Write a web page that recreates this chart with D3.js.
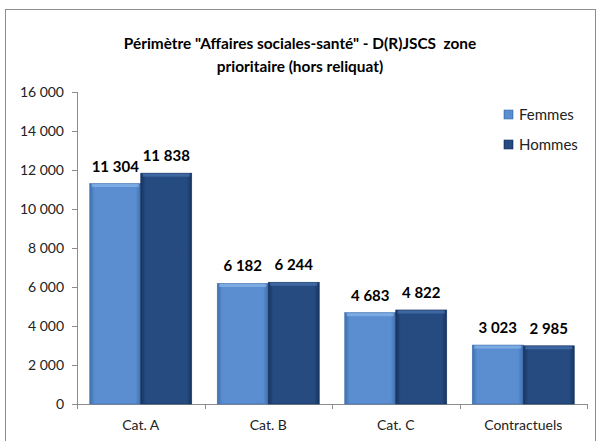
<!DOCTYPE html>
<html><head><meta charset="utf-8">
<script src="https://cdn.jsdelivr.net/npm/d3@7"></script>
<style>body{margin:0;background:#fff;} svg{display:block;font-family:Lato,"Open Sans",sans-serif;}</style>
</head><body>
<svg id="c" width="600" height="441"></svg>
<script>
const categories = ["Cat. A", "Cat. B", "Cat. C", "Contractuels"];
const seriesNames = ["Femmes", "Hommes"];
const femmes = [11304, 6182, 4683, 3023];
const hommes = [11838, 6244, 4822, 2985];
const yTicks = [0, 2000, 4000, 6000, 8000, 10000, 12000, 14000, 16000];
const titleLines = ['Périmètre "Affaires sociales-santé" - D(R)JSCS  zone', 'prioritaire (hors reliquat)'];

const svg = d3.select("#c");
const colors = {Femmes: ["#8ab8ec", "#5a8ed0", "#3f6fae"], Hommes: ["#4a74b0", "#254b80", "#173460"]};
const defs = svg.append("defs");
seriesNames.forEach(s => {
  const g = defs.append("linearGradient").attr("id", "g" + s).attr("x1", 0).attr("x2", 1).attr("y1", 0).attr("y2", 0);
  g.append("stop").attr("offset", "0").attr("stop-color", colors[s][2]);
  g.append("stop").attr("offset", "0.1").attr("stop-color", colors[s][1]);
  g.append("stop").attr("offset", "0.9").attr("stop-color", colors[s][1]);
  g.append("stop").attr("offset", "1").attr("stop-color", colors[s][2]);
});

// outer border
svg.append("rect").attr("x", 5.5).attr("y", 9.5).attr("width", 590).attr("height", 440)
  .attr("fill", "#fff").attr("stroke", "#8c8c8c").attr("stroke-width", 1);

const fmt = v => d3.format(",")(v).replace(/,/g, "\u202F");

const x0 = d3.scaleBand().domain(categories).range([77, 587]).paddingInner(0.2).paddingOuter(0.1);
const xBand = d3.scaleBand().domain(categories).range([77, 587]);
const x1 = d3.scaleBand().domain(seriesNames).range([0, x0.bandwidth()]);
const y = d3.scaleLinear().domain([0, 16000]).range([404, 92]);

// title
svg.append("g").selectAll("text").data(titleLines).join("text")
  .attr("x", 300).attr("y", (d, i) => 49 + i * 23)
  .attr("text-anchor", "middle").attr("font-size", 15.4).attr("font-weight", "bold").attr("fill", "#000")
  .style("white-space", "pre")
  .text(d => d);

// y axis
const yAxis = d3.axisLeft(y).tickValues(yTicks).tickFormat(fmt).tickSize(5).tickPadding(8);
const ga = svg.append("g").attr("transform", "translate(77,0)").call(yAxis);
ga.select(".domain").attr("stroke", "#8c8c8c").attr("d", "M0.5,92V404.5");
ga.selectAll(".tick line").attr("stroke", "#8c8c8c");
ga.selectAll(".tick text").attr("font-size", 14).attr("fill", "#222").attr("font-family", "Lato,sans-serif");

// x axis
const xAxis = d3.axisBottom(xBand).tickSize(0).tickPadding(16);
const gx = svg.append("g").attr("transform", "translate(0,404)").call(xAxis);
gx.select(".domain").attr("stroke", "#8c8c8c").attr("d", "M77,0.5H587");
gx.selectAll(".tick text").attr("font-size", 14).attr("fill", "#222").attr("font-family", "Lato,sans-serif");
// category separators
svg.append("g").selectAll("line").data(categories.concat(["_end"])).join("line")
  .attr("x1", (d, i) => Math.round(77 + i * xBand.step()) + 0.5)
  .attr("x2", (d, i) => Math.round(77 + i * xBand.step()) + 0.5)
  .attr("y1", 404).attr("y2", 409).attr("stroke", "#8c8c8c");

// bars
const data = categories.map((c, i) => ({cat: c, vals: [{s: "Femmes", v: femmes[i]}, {s: "Hommes", v: hommes[i]}]}));
const groups = svg.append("g").selectAll("g").data(data).join("g")
  .attr("transform", d => `translate(${x0(d.cat)},0)`);
groups.selectAll("rect.bar").data(d => d.vals).join("rect").attr("class", "bar")
  .attr("x", d => x1(d.s)).attr("y", d => y(d.v))
  .attr("width", x1.bandwidth()).attr("height", d => y(0) - y(d.v))
  .attr("fill", d => `url(#g${d.s})`).attr("stroke", d => colors[d.s][2]).attr("stroke-width", 0.6);
// top bevel highlight
groups.selectAll("rect.top").data(d => d.vals).join("rect").attr("class", "top")
  .attr("x", d => x1(d.s) + 2).attr("y", d => y(d.v) + 0.5)
  .attr("width", x1.bandwidth() - 4).attr("height", 3)
  .attr("fill", d => colors[d.s][0]).attr("opacity", 0.7);
groups.selectAll("text").data(d => d.vals).join("text")
  .attr("x", d => x1(d.s) + x1.bandwidth() / 2).attr("y", d => y(d.v) - 12)
  .attr("text-anchor", "middle").attr("font-size", 15).attr("font-weight", "bold").attr("fill", "#000")
  .text(d => fmt(d.v));

// legend
const lg = svg.append("g").selectAll("g").data(seriesNames).join("g")
  .attr("transform", (d, i) => `translate(504,${110 + i * 30})`);
lg.append("rect").attr("width", 9).attr("height", 9).attr("fill", d => `url(#g${d})`).attr("stroke", d => colors[d][2]).attr("stroke-width", 0.6);
lg.append("text").attr("x", 15).attr("y", 10).attr("font-size", 15).attr("fill", "#222").text(d => d);
</script>
</body></html>
